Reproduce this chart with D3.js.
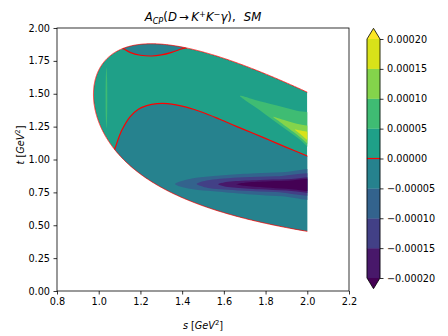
<!DOCTYPE html>
<html>
<head>
<meta charset="utf-8">
<script src="https://cdn.jsdelivr.net/npm/d3@7"></script>
<style>
  body { margin: 0; background: #fff; }
  text { font-family: "DejaVu Sans", sans-serif; }
</style>
</head>
<body>
<div id="chart"></div>
<script>
// contour levels and ticks
const levels = [-0.0002, -0.00015, -0.0001, -0.00005, 0, 0.00005, 0.0001, 0.00015, 0.0002];
const xTicks = [0.8, 1.0, 1.2, 1.4, 1.6, 1.8, 2.0, 2.2];
const yTicks = [0, 0.25, 0.5, 0.75, 1.0, 1.25, 1.5, 1.75, 2.0];

// Dalitz region of D -> K+ K- gamma, cut at s = 2 GeV^2
const massD = 1.86484, massK = 0.493677, sCut = 2.0;

// zero contours (s, t)
const zeroLower = [[1.065,1.03],[1.078,1.085],[1.11,1.22],[1.15,1.325],[1.19,1.383],[1.23,1.41],[1.28,1.425],[1.33,1.425],[1.42,1.398],[1.5,1.357],[1.58,1.306],[1.66,1.252],[1.74,1.2],[1.82,1.146],[1.9,1.092],[2.0,1.027],[2.05,0.995]];
const zeroCap = [[1.1,1.86],[1.115,1.846],[1.15,1.815],[1.2,1.793],[1.254,1.787],[1.3,1.795],[1.35,1.815],[1.4,1.842],[1.425,1.853],[1.45,1.87]];

// negative lobe around t ~ 0.8 (outlines, outer to inner)
const negOuter = [[1.366,0.814],[1.39,0.832],[1.453,0.857],[1.55,0.874],[1.613,0.882],[1.75,0.895],[1.88,0.903],[2.05,0.912],[2.05,0.708],[1.88,0.72],[1.773,0.73],[1.613,0.75],[1.55,0.758],[1.453,0.773],[1.39,0.795]];
const negMid = [[1.47,0.813],[1.5,0.834],[1.533,0.844],[1.6,0.855],[1.693,0.865],[1.85,0.872],[2.05,0.878],[2.05,0.74],[1.85,0.752],[1.693,0.763],[1.6,0.772],[1.533,0.782],[1.5,0.793]];
const negInner = [[1.573,0.812],[1.6,0.826],[1.645,0.834],[1.773,0.844],[1.9,0.849],[2.05,0.853],[2.05,0.757],[1.9,0.764],[1.773,0.773],[1.645,0.788],[1.6,0.797]];
const negCore = [[1.66,0.812],[1.7,0.824],[1.8,0.833],[1.9,0.838],[2.05,0.842],[2.05,0.77],[1.9,0.778],[1.8,0.788],[1.7,0.8]];

// positive streaks
const posOuter = [[1.677,1.483],[1.7,1.477],[1.75,1.453],[1.85,1.412],[1.95,1.37],[2.05,1.33],[2.05,1.054],[1.95,1.17],[1.85,1.284],[1.75,1.399],[1.7,1.453]];
const posMid = [[1.837,1.324],[1.86,1.313],[1.9,1.295],[1.95,1.272],[2.05,1.226],[2.05,1.072],[1.95,1.19],[1.9,1.249],[1.86,1.297]];
const posInner = [[1.941,1.227],[1.96,1.222],[2.0,1.211],[2.05,1.199],[2.05,1.081],[2.0,1.148],[1.96,1.202]];
const posLeft = [[1.037,1.70],[1.040,1.62],[1.041,1.47],[1.040,1.32],[1.037,1.24],[1.034,1.32],[1.033,1.47],[1.034,1.62]];

const width = 448, height = 336;

const x = d3.scaleLinear().domain([0.8, 2.2]).range([57, 349]);
const y = d3.scaleLinear().domain([0, 2]).range([291, 28]);

// band colours like matplotlib contourf with extend='both'
function bandColor(i) {
  if (i < 0) return d3.interpolateViridis(0);
  if (i >= levels.length - 1) return d3.interpolateViridis(1);
  return d3.interpolateViridis((i + 0.5) / (levels.length - 1));
}

// kinematic limits of t for a given s
function tRange(s) {
  const rs = Math.sqrt(s);
  const e2 = rs / 2;
  const e3 = (massD * massD - s) / (2 * rs);
  const p2 = Math.sqrt(Math.max(e2 * e2 - massK * massK, 0));
  const a = (e2 + e3) * (e2 + e3);
  return [a - (p2 + e3) * (p2 + e3), a - (p2 - e3) * (p2 - e3)];
}

const sMin = 4 * massK * massK;
const sGrid = d3.range(0, 301).map(i => sMin + (sCut - sMin) * (i / 300) * (i / 300));
const upper = sGrid.map(s => [s, tRange(s)[1]]);
const lower = sGrid.map(s => [s, tRange(s)[0]]);

const svg = d3.select("#chart")
  .append("svg")
    .attr("width", width)
    .attr("height", height)
    .style("background", "#fff");

const line = d3.line().x(d => x(d[0])).y(d => y(d[1]));
const smooth = d3.line().x(d => x(d[0])).y(d => y(d[1])).curve(d3.curveCatmullRom.alpha(0.5));
const loop = d3.line().x(d => x(d[0])).y(d => y(d[1])).curve(d3.curveCatmullRomClosed.alpha(0.5));

svg.append("clipPath").attr("id", "dalitz")
  .append("path")
    .attr("d", line(upper.concat(lower.slice().reverse())) + "Z");

const plot = svg.append("g").attr("clip-path", "url(#dalitz)");

// base band 0 .. 5e-5
plot.append("path")
  .attr("d", line(upper.concat(lower.slice().reverse())) + "Z")
  .attr("fill", bandColor(4));

// negative lobe below the zero line
plot.append("path")
  .attr("d", smooth(zeroLower) + `L${x(2.1)},${y(0)}L${x(1.0)},${y(0)}Z`)
  .attr("fill", bandColor(3));

// negative cap at the top
plot.append("path")
  .attr("d", smooth(zeroCap) + `L${x(1.45)},${y(1.95)}L${x(1.1)},${y(1.95)}Z`)
  .attr("fill", bandColor(3));

const regions = [
  {pts: negOuter, band: 2},
  {pts: negMid, band: 1},
  {pts: negInner, band: 0},
  {pts: negCore, band: -1},
  {pts: posOuter, band: 5},
  {pts: posMid, band: 6},
  {pts: posInner, band: 7},
  {pts: posLeft, band: 5}
];

plot.selectAll("path.band")
  .data(regions)
  .join("path")
    .attr("class", "band")
    .attr("d", d => loop(d.pts))
    .attr("fill", d => bandColor(d.band));

// zero contour lines
plot.selectAll("path.zero")
  .data([zeroLower, zeroCap])
  .join("path")
    .attr("class", "zero")
    .attr("d", d => smooth(d))
    .attr("fill", "none")
    .attr("stroke", "red")
    .attr("stroke-width", 1.2);

// the region edge also sits on the zero level
svg.append("path")
  .attr("d", line(upper.slice().reverse().concat(lower)))
  .attr("fill", "none")
  .attr("stroke", "red")
  .attr("stroke-width", 0.9)
  .attr("stroke-opacity", 0.85);

// axes
const xAxis = svg.append("g")
  .attr("transform", `translate(0,${y(0)})`)
  .call(d3.axisBottom(x).tickValues(xTicks).tickFormat(d3.format(".1f")).tickSize(3.5).tickPadding(3.5));
const yAxis = svg.append("g")
  .attr("transform", `translate(${x(0.8)},0)`)
  .call(d3.axisLeft(y).tickValues(yTicks).tickFormat(d3.format(".2f")).tickSize(3.5).tickPadding(3.5));
[xAxis, yAxis].forEach(a => {
  a.select(".domain").remove();
  a.selectAll("text").attr("font-size", 9.7).attr("font-family", "DejaVu Sans").attr("fill", "#000");
  a.selectAll("line").attr("stroke", "#000").attr("stroke-width", 0.8);
});

svg.append("rect")
  .attr("x", x(0.8)).attr("y", y(2))
  .attr("width", x(2.2) - x(0.8)).attr("height", y(0) - y(2))
  .attr("fill", "none")
  .attr("stroke", "#000")
  .attr("stroke-width", 0.8);

// title
const title = svg.append("text")
  .attr("x", (x(0.8) + x(2.2)) / 2)
  .attr("y", 21)
  .attr("text-anchor", "middle")
  .attr("font-size", 11.7);
title.append("tspan").attr("font-style", "italic").text("A");
title.append("tspan").attr("font-style", "italic").attr("font-size", 8.2).attr("dy", 2.5).text("CP");
title.append("tspan").attr("dy", -2.5).text("(");
title.append("tspan").attr("font-style", "italic").text("D");
title.append("tspan").text("\u2009\u2192\u2009");
title.append("tspan").attr("font-style", "italic").text("K");
title.append("tspan").attr("font-size", 8.2).attr("dy", -4.5).text("+");
title.append("tspan").attr("font-style", "italic").attr("dy", 4.5).text("K");
title.append("tspan").attr("font-size", 8.2).attr("dy", -4.5).text("\u2212");
title.append("tspan").attr("font-style", "italic").attr("dy", 4.5).text("\u03b3");
title.append("tspan").text("),\u2002\u2009");
title.append("tspan").attr("font-style", "italic").text("SM");

// axis labels
const xl = svg.append("text")
  .attr("x", (x(0.8) + x(2.2)) / 2)
  .attr("y", 329)
  .attr("text-anchor", "middle")
  .attr("font-size", 9.7);
xl.append("tspan").attr("font-style", "italic").text("s");
xl.append("tspan").text(" [");
xl.append("tspan").attr("font-style", "italic").text("GeV");
xl.append("tspan").attr("font-size", 6.8).attr("dy", -4).text("2");
xl.append("tspan").attr("dy", 4).text("]");

const yl = svg.append("text")
  .attr("transform", `translate(24,145) rotate(-90)`)
  .attr("text-anchor", "middle")
  .attr("font-size", 9.7);
yl.append("tspan").attr("font-style", "italic").text("t");
yl.append("tspan").text(" [");
yl.append("tspan").attr("font-style", "italic").text("GeV");
yl.append("tspan").attr("font-size", 6.8).attr("dy", -4).text("2");
yl.append("tspan").attr("dy", 4).text("]");

// colorbar
const cbX = 367, cbW = 13;
const cy = d3.scaleLinear().domain([levels[0], levels[levels.length - 1]]).range([278, 39]);
const cb = svg.append("g");
cb.selectAll("rect")
  .data(d3.range(levels.length - 1))
  .join("rect")
    .attr("x", cbX)
    .attr("y", i => cy(levels[i + 1]))
    .attr("width", cbW)
    .attr("height", i => cy(levels[i]) - cy(levels[i + 1]))
    .attr("fill", i => bandColor(i))
    .attr("stroke", i => bandColor(i))
    .attr("stroke-width", 0.3);
const ext = 10.7;
cb.append("path")
  .attr("d", `M${cbX},${cy(levels[levels.length - 1])}L${cbX + cbW / 2},${cy(levels[levels.length - 1]) - ext}L${cbX + cbW},${cy(levels[levels.length - 1])}Z`)
  .attr("fill", bandColor(levels.length - 1));
cb.append("path")
  .attr("d", `M${cbX},${cy(levels[0])}L${cbX + cbW / 2},${cy(levels[0]) + ext}L${cbX + cbW},${cy(levels[0])}Z`)
  .attr("fill", bandColor(-1));
// zero line on the colorbar
cb.append("line")
  .attr("x1", cbX).attr("x2", cbX + cbW)
  .attr("y1", cy(0)).attr("y2", cy(0))
  .attr("stroke", "red")
  .attr("stroke-width", 1.2);
// outline
cb.append("path")
  .attr("d", `M${cbX},${cy(levels[0])}L${cbX + cbW / 2},${cy(levels[0]) + ext}L${cbX + cbW},${cy(levels[0])}` +
             `L${cbX + cbW},${cy(levels[levels.length - 1])}L${cbX + cbW / 2},${cy(levels[levels.length - 1]) - ext}L${cbX},${cy(levels[levels.length - 1])}Z`)
  .attr("fill", "none")
  .attr("stroke", "#000")
  .attr("stroke-width", 0.8);

const cAxis = cb.append("g")
  .attr("transform", `translate(${cbX + cbW},0)`)
  .call(d3.axisRight(cy).tickValues(levels).tickFormat(d3.format(".5f")).tickSize(3.5).tickPadding(3.5));
cAxis.select(".domain").remove();
cAxis.selectAll("text").attr("font-size", 9.7).attr("font-family", "DejaVu Sans").attr("fill", "#000");
cAxis.selectAll("line").attr("stroke", "#000").attr("stroke-width", 0.8);
</script>
</body>
</html>
